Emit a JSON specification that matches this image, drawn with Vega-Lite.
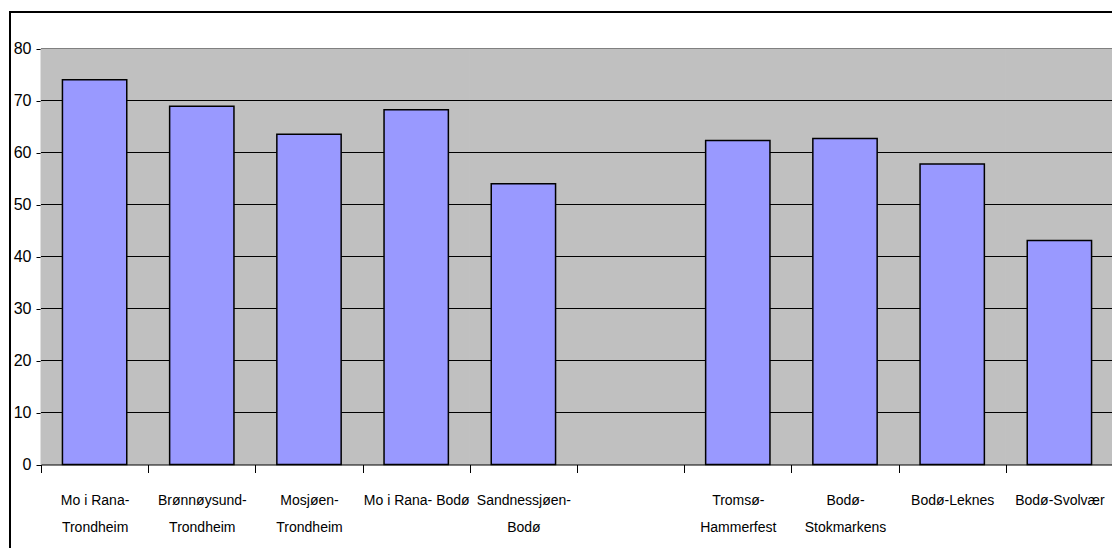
{
  "$schema": "https://vega.github.io/schema/vega-lite/v6.json",
  "width": 1110,
  "height": 545,
  "autosize": {"type": "none"},
  "padding": {"left": 10, "top": 12, "right": -8, "bottom": -9},
  "background": "white",
  "config": {
    "view": {"stroke": "black", "strokeWidth": 2, "fill": null},
    "font": "Liberation Sans, Arial, sans-serif"
  },
  "datasets": {
    "routes": [
      {"route": "Mo i Rana-Trondheim", "share": 74.0},
      {"route": "Brønnøysund-Trondheim", "share": 68.9},
      {"route": "Mosjøen-Trondheim", "share": 63.5},
      {"route": "Mo i Rana- Bodø", "share": 68.2},
      {"route": "Sandnessjøen-Bodø", "share": 54.0},
      {"route": " ", "share": null},
      {"route": "Tromsø-Hammerfest", "share": 62.3},
      {"route": "Bodø-Stokmarkens", "share": 62.7},
      {"route": "Bodø-Leknes", "share": 57.8},
      {"route": "Bodø-Svolvær", "share": 43.1}
    ],
    "levels": [
      {"level": 10}, {"level": 20}, {"level": 30}, {"level": 40},
      {"level": 50}, {"level": 60}, {"level": 70}, {"level": 80}
    ]
  },
  "resolve": {"scale": {"x": "independent"}},
  "layer": [
    {
      "data": {"name": "routes"},
      "mark": {"type": "rect", "fill": "#C0C0C0", "stroke": "#C0C0C0", "strokeWidth": 1},
      "encoding": {
        "x": {
          "field": "route", "type": "nominal", "sort": null,
          "scale": {
            "domain": ["Mo i Rana-Trondheim", "Brønnøysund-Trondheim", "Mosjøen-Trondheim", "Mo i Rana- Bodø", "Sandnessjøen-Bodø", " ", "Tromsø-Hammerfest", "Bodø-Stokmarkens", "Bodø-Leknes", "Bodø-Svolvær"],
            "range": [31, 1103], "paddingInner": 0, "paddingOuter": 0
          },
          "axis": {
            "title": null,
            "orient": "bottom",
            "offset": -92.5,
            "domainColor": "black",
            "domainWidth": 1,
            "tickColor": "black",
            "tickSize": 8,
            "tickBand": "extent",
            "labelAngle": 0,
            "labelColor": "black",
            "labelFontSize": 14,
            "labelPadding": 21,
            "labelLineHeight": 27,
            "labelBaseline": "top",
            "labelOverlap": false,
            "labelLimit": 200,
            "labelExpr": "length(datum.label) > 15 ? [substring(datum.label, 0, indexof(datum.label, '-') + 1), substring(datum.label, indexof(datum.label, '-') + 1)] : datum.label"
          }
        },
        "y": {
          "datum": 0, "type": "quantitative",
          "axis": {
            "title": null, "orient": "left", "offset": -31,
            "values": [0, 10, 20, 30, 40, 50, 60, 70, 80],
            "grid": false, "domainColor": "black", "domainWidth": 1,
            "tickColor": "black", "tickSize": 5,
            "labelColor": "black", "labelFontSize": 16, "labelPadding": 5
          }
        },
        "y2": {"datum": 80}
      }
    },
    {
      "data": {"name": "levels"},
      "mark": {"type": "rule", "strokeWidth": 1},
      "encoding": {
        "x": {
          "datum": "Mo i Rana-Trondheim", "type": "nominal", "bandPosition": 0,
          "scale": {
            "domain": ["Mo i Rana-Trondheim", "Brønnøysund-Trondheim", "Mosjøen-Trondheim", "Mo i Rana- Bodø", "Sandnessjøen-Bodø", " ", "Tromsø-Hammerfest", "Bodø-Stokmarkens", "Bodø-Leknes", "Bodø-Svolvær"],
            "range": [31, 1103], "paddingInner": 0, "paddingOuter": 0
          },
          "axis": null
        },
        "x2": {"datum": "Bodø-Svolvær", "bandPosition": 1},
        "y": {
          "field": "level", "type": "quantitative",
          "axis": {
            "title": null, "orient": "left", "offset": -31,
            "values": [0, 10, 20, 30, 40, 50, 60, 70, 80],
            "grid": false, "domainColor": "black", "domainWidth": 1,
            "tickColor": "black", "tickSize": 5,
            "labelColor": "black", "labelFontSize": 16, "labelPadding": 5
          }
        },
        "stroke": {
          "condition": {"test": "datum.level == 80", "value": "#808080"},
          "value": "black"
        }
      }
    },
    {
      "data": {"name": "routes"},
      "mark": {"type": "bar", "fill": "#9999FF", "stroke": "black", "strokeWidth": 1.5},
      "encoding": {
        "x": {
          "field": "route", "type": "nominal", "sort": null,
          "scale": {
            "domain": ["Mo i Rana-Trondheim", "Brønnøysund-Trondheim", "Mosjøen-Trondheim", "Mo i Rana- Bodø", "Sandnessjøen-Bodø", " ", "Tromsø-Hammerfest", "Bodø-Stokmarkens", "Bodø-Leknes", "Bodø-Svolvær"],
            "range": [31, 1103], "paddingInner": 0.4, "paddingOuter": 0.2
          },
          "axis": null
        },
        "y": {
          "field": "share", "type": "quantitative",
          "scale": {"domain": [0, 80], "range": [452.5, 36.5], "nice": false, "zero": true},
          "axis": {
            "title": null, "orient": "left", "offset": -31,
            "values": [0, 10, 20, 30, 40, 50, 60, 70, 80],
            "grid": false, "domainColor": "black", "domainWidth": 1,
            "tickColor": "black", "tickSize": 5,
            "labelColor": "black", "labelFontSize": 16, "labelPadding": 5
          }
        }
      }
    }
  ]
}
